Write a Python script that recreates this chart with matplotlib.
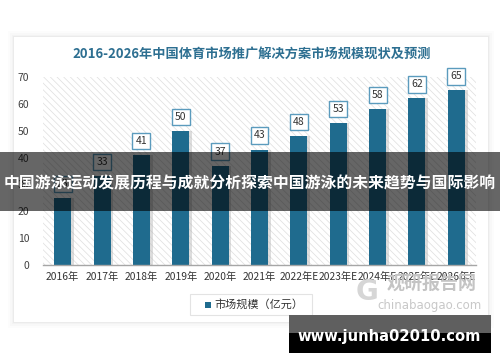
import matplotlib
matplotlib.use('Agg')
import matplotlib.pyplot as plt
from matplotlib.patches import Rectangle

plt.rcParams['font.family'] = ['Noto Sans CJK SC', 'DejaVu Sans']
plt.rcParams['hatch.linewidth'] = 0.5
plt.rcParams['hatch.color'] = '#dedede'

# data
years = ['2016年', '2017年', '2018年', '2019年', '2020年', '2021年',
         '2022年E', '2023年E', '2024年E', '2025年E', '2026年E']
market_size = [25, 33, 41, 50, 37, 43, 48, 53, 58, 62, 65]
yticks = [0, 10, 20, 30, 40, 50, 60, 70]

title = '2016-2026年中国体育市场推广解决方案市场规模现状及预测'
legend_label = '市场规模（亿元）'
banner = '中国游泳运动发展历程与成就分析探索中国游泳的未来趋势与国际影响'
site = 'www.junha02010.com'

bar_color = '#1f6b8e'
W, H = 500, 362

fig = plt.figure(figsize=(5, 3.62), dpi=100)
fig.patch.set_facecolor('white')

# card with soft shadow
for d, a in [(6, 0.012), (4, 0.015), (2, 0.02), (1, 0.03)]:
    fig.patches.append(Rectangle(((14 - d) / W, 1 - (322 + d) / H), (474 + 2 * d) / W, (285 + 2 * d) / H,
                                 transform=fig.transFigure, fc='black', ec='none', alpha=a, zorder=-3))
fig.patches.append(Rectangle((14 / W, 1 - 322 / H), 474 / W, 285 / H,
                             transform=fig.transFigure, fc='white', ec='none', zorder=-2))

fig.text(252 / W, 1 - 54 / H, title, ha='center', va='center', fontsize=9.5,
         fontweight='bold', color='#2d6f91')

ax = fig.add_axes([43 / W, 1 - 265 / H, 433 / W, 188 / H])
ax.set_facecolor('none')
ax.add_patch(Rectangle((0, 0), 1, 1, transform=ax.transAxes, fc='white', ec='#dedede',
                       hatch='\\\\\\\\\\', lw=0, zorder=0))

x = list(range(len(years)))
ax.bar([i + 0.07 for i in x], market_size, width=0.43, color='#b5b5b5', alpha=0.45, zorder=1)
ax.bar(x, market_size, width=0.43, color=bar_color, zorder=2)

for i, v in zip(x, market_size):
    ax.annotate(str(v), (i, v), xytext=(0, 6.5), textcoords='offset points',
                ha='center', va='bottom', fontsize=7.5, color='#333333', zorder=5,
                bbox=dict(boxstyle='square,pad=0.3', fc='white', ec='#5b9bbd', lw=1))

ax.set_xlim(-0.5, 10.5)
ax.set_ylim(0, 70)
ax.set_yticks(yticks)
ax.set_xticks(x)
ax.set_xticklabels(years, fontsize=7.4, color='#333333')
ax.tick_params(axis='y', length=0, labelsize=7.5, labelcolor='#404040', pad=10)
ax.tick_params(axis='x', length=0, pad=5)
for s in ['top', 'right', 'left']:
    ax.spines[s].set_visible(False)
ax.spines['bottom'].set_color('#a6a6a6')
ax.spines['bottom'].set_linewidth(1)

# legend box
fig.patches.append(Rectangle((190 / W, 1 - 315 / H), 122 / W, 21 / H, transform=fig.transFigure,
                             fc='white', ec='#e3e3e3', lw=0.8, zorder=1))
fig.patches.append(Rectangle((205 / W, 1 - 308 / H), 6 / W, 6 / H, transform=fig.transFigure,
                             fc=bar_color, ec='none', zorder=2))
fig.text(214 / W, 1 - 304.5 / H, legend_label, ha='left', va='center', fontsize=8,
         color='#333333', zorder=2)

# watermark logo
fig.text(432 / W, 1 - 283 / H, '观研报告网', ha='center', va='center', fontsize=13,
         fontweight='bold', color='#c4c4c4', zorder=1)
fig.text(430 / W, 1 - 305 / H, 'chinabaogao.com', ha='center', va='center', fontsize=8.5,
         color='#c8c8c8', family='DejaVu Sans', zorder=1)
fig.text(367 / W, 1 - 292 / H, 'G', ha='center', va='center', fontsize=20,
         fontweight='bold', color='#d6d6d6', family='DejaVu Sans', zorder=1)

# overlay banner
fig.patches.append(Rectangle((0, 1 - 211 / H), 1, 59 / H, transform=fig.transFigure,
                             fc='black', ec='none', alpha=0.6, zorder=10))
fig.text(250 / W, 1 - 183 / H, banner, ha='center', va='center', fontsize=11.4,
         fontweight='bold', color='white', zorder=11)

# site box
fig.patches.append(Rectangle((289 / W, 1 - 333 / H), 202 / W, 18 / H, transform=fig.transFigure,
                             fc='#5f5f5f', ec='none', zorder=10))
fig.patches.append(Rectangle((289 / W, 1 - 353 / H), 202 / W, 20 / H, transform=fig.transFigure,
                             fc='black', ec='none', zorder=10))
fig.text(389 / W, 1 - 337 / H, site, ha='center', va='center', fontsize=10.6,
         fontweight='bold', color='white', family='DejaVu Sans', zorder=11)

fig.savefig('out.png', dpi=100)
